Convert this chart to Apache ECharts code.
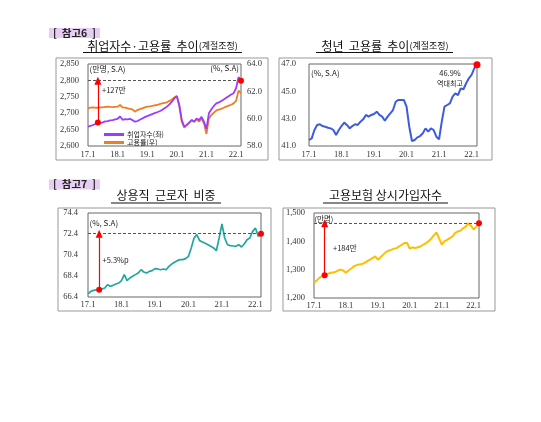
<!DOCTYPE html>
<html><head><meta charset="utf-8">
<script src="https://cdn.jsdelivr.net/npm/echarts@6/dist/echarts.min.js"></script>
<style>html,body{margin:0;padding:0;background:#fff}#c{width:541px;height:422px}</style>
</head><body><div id="c"></div>
<script>
// month categories 17.1 ... 22.3
const months = [];
for (let y = 17; y <= 22; y++) for (let m = 1; m <= 12; m++) { if (y === 22 && m > 3) break; months.push(y + '.' + m); }
const xTicks = ['17.1','18.1','19.1','20.1','21.1','22.1'];

// 취업자수 (만명, S.A)
const employment = [2659,2661,2664,2667,2672,2670,2672,2675,2676,2678,2679,2681,2683,2690,2680,2682,2681,2683,2679,2674,2676,2680,2684,2688,2691,2694,2697,2700,2703,2706,2710,2715,2720,2727,2735,2745,2752,2725,2679,2659,2664,2671,2679,2674,2684,2679,2689,2674,2652,2700,2712,2722,2730,2733,2737,2742,2747,2752,2757,2761,2776,2810,2799];
// 고용률 (%, S.A)
const empRate = [60.76,60.8,60.83,60.8,60.8,60.82,60.83,60.86,60.88,60.86,60.85,60.87,60.88,61.0,60.83,60.8,60.76,60.72,60.68,60.51,60.63,60.7,60.76,60.82,60.88,60.9,60.93,60.97,61.0,61.06,61.12,61.16,61.2,61.3,61.41,61.56,61.66,60.88,59.78,59.34,59.54,59.71,59.9,59.78,59.95,59.78,60.02,59.66,58.88,60.02,60.27,60.44,60.6,60.66,60.72,60.8,60.88,60.95,61.02,61.12,61.3,62.05,61.85];
// 청년 고용률 (%, S.A)
const youthRate = [41.44,41.56,42.17,42.54,42.59,42.46,42.41,42.34,42.29,42.17,41.8,42.17,42.46,42.71,42.54,42.29,42.46,42.59,42.54,42.78,42.95,43.27,43.15,43.27,43.34,43.51,43.27,43.15,42.85,43.15,43.39,43.63,44.24,44.37,44.37,44.37,43.88,42.41,41.37,41.44,41.63,41.73,41.93,42.29,42.05,42.29,42.17,41.68,41.49,42.78,43.88,44.0,44.12,44.61,44.85,44.73,45.22,45.15,45.59,45.95,46.2,46.68,46.95];
// 상용직 근로자 비중 (%, S.A)
const regularShare = [66.69,66.94,67.03,67.07,67.1,67.16,67.26,67.57,67.42,67.51,67.64,67.73,67.96,68.53,67.96,68.21,68.37,68.53,68.69,69.0,68.78,68.69,68.84,68.91,69.1,69.07,69.0,69.07,69.0,69.32,69.54,69.7,69.86,69.96,69.96,70.05,70.27,71.07,72.02,72.34,71.77,71.64,71.51,71.38,71.23,71.07,70.81,72.02,73.35,72.02,71.38,71.29,71.26,71.23,71.38,71.16,71.45,71.86,72.02,72.65,72.97,72.18,72.43];
// 고용보험 상시가입자수 (만명)
const insured = [1254,1262,1271,1277,1280,1285,1288,1290,1292,1297,1300,1297,1289,1297,1304,1312,1316,1318,1320,1324,1330,1335,1341,1347,1335,1344,1353,1362,1367,1370,1374,1376,1382,1388,1394,1394,1374,1379,1376,1379,1382,1388,1393,1400,1409,1421,1431,1411,1388,1400,1405,1411,1417,1429,1435,1437,1446,1452,1464,1455,1441,1452,1464];

const baseIdx = 4; // 17.5
const lastIdx = months.length - 1;

const KR = '"Noto Sans CJK KR", "Noto Sans", sans-serif';
const NUM = '"Liberation Serif", serif';

function xAxisFor(g) {
  return {
    type: 'category', gridIndex: g, data: months, boundaryGap: false,
    axisLine: { show: false }, axisTick: { show: false }, splitLine: { show: false },
    axisLabel: { interval: (i, v) => xTicks.includes(v), fontSize: 8.5, fontFamily: NUM, color: '#333', margin: g < 2 ? 4 : 3 }
  };
}
function yAxisFor(g, min, max, step, pos, margin, fmt) {
  return {
    type: 'value', gridIndex: g, min: min, max: max, interval: step, position: pos,
    axisLine: { show: false }, axisTick: { show: false }, splitLine: { show: false },
    axisLabel: { fontSize: 8.5, fontFamily: NUM, color: '#333', margin: margin, formatter: fmt, showMinLabel: true, showMaxLabel: true }
  };
}
const comma = v => v.toLocaleString('en-US');
const fix1 = v => v.toFixed(1);

function marks(arr, withArrow) {
  const start = arr[baseIdx], end = arr[lastIdx];
  const ml = [{ yAxis: end, lineStyle: { type: [3, 2], color: '#555', width: 1 }, symbol: 'none' }];
  if (withArrow) ml.push([
    { coord: [months[baseIdx], start], symbol: 'none', lineStyle: { color: '#ff0000', width: 1.2, type: 'solid' } },
    { coord: [months[baseIdx], end], symbol: 'triangle', symbolSize: [7, 8], symbolRotate: 0 }
  ]);
  return {
    markLine: { silent: true, symbol: 'none', label: { show: false }, data: ml, animation: false },
    markPoint: { silent: true, symbol: 'circle', symbolSize: 6, itemStyle: { color: '#ff0000' }, label: { show: false },
      data: [{ coord: [months[baseIdx], start] }, { coord: [months[lastIdx], end] }] }
  };
}

function txt(x, y, text, size, opts) {
  return Object.assign({ type: 'text', x: x, y: y, silent: true, style: Object.assign({ text: text, fontSize: size, fontFamily: KR, fill: '#222', textAlign: 'left', textVerticalAlign: 'middle' }, opts || {}) });
}
function rect(x, y, w, h, stroke, fill) {
  return { type: 'rect', silent: true, shape: { x: x, y: y, width: w, height: h }, style: { stroke: stroke || 'none', fill: fill || 'none', lineWidth: 1 } };
}
function line(x1, y1, x2, y2, c, w) {
  return { type: 'line', silent: true, shape: { x1: x1, y1: y1, x2: x2, y2: y2 }, style: { stroke: c, lineWidth: w } };
}
function title(cx, y, main, sub) {
  const rich = { a: { fontSize: 12, fontFamily: KR, fill: '#111' }, b: { fontSize: 9, fontFamily: KR, fill: '#111' } };
  return { type: 'text', x: cx, y: y, silent: true, style: { text: '{a|' + main + '}' + (sub ? '{b|' + sub + '}' : ''), rich: rich, textAlign: 'center', textVerticalAlign: 'middle' } };
}

const m1 = marks(employment, true);
const m3 = marks(regularShare, true);
const m4 = marks(insured, true);
const m2 = { markPoint: { silent: true, symbol: 'circle', symbolSize: 7, itemStyle: { color: '#ff0000' }, label: { show: false }, data: [{ coord: [months[lastIdx], youthRate[lastIdx]] }] } };

const option = {
  backgroundColor: '#ffffff',
  animation: false,
  grid: [
    { left: 88, top: 64, width: 153, height: 82, show: true, borderColor: '#666', borderWidth: 1, backgroundColor: 'transparent' },
    { left: 309, top: 64, width: 168, height: 82, show: true, borderColor: '#666', borderWidth: 1, backgroundColor: 'transparent' },
    { left: 88, top: 213, width: 173, height: 84, show: true, borderColor: '#666', borderWidth: 1, backgroundColor: 'transparent' },
    { left: 314, top: 213, width: 165, height: 85, show: true, borderColor: '#666', borderWidth: 1, backgroundColor: 'transparent' }
  ],
  xAxis: [xAxisFor(0), xAxisFor(1), xAxisFor(2), xAxisFor(3)],
  yAxis: [
    yAxisFor(0, 2600, 2850, 50, 'left', 9, comma),
    yAxisFor(0, 58, 64, 2, 'right', 6, fix1),
    yAxisFor(1, 41, 47, 2, 'left', 13, fix1),
    yAxisFor(2, 66.4, 74.4, 2, 'left', 10, fix1),
    yAxisFor(3, 1200, 1500, 100, 'left', 9, comma)
  ],
  legend: {
    left: 99, top: 126, orient: 'vertical', itemWidth: 20, itemHeight: 3, itemGap: 1,
    textStyle: { fontSize: 7, fontFamily: KR, color: '#222', padding: [0, 0, 0, -2] },
    data: [{ name: '취업자수(좌)', icon: 'rect' }, { name: '고용률(우)', icon: 'rect' }],
    selectedMode: false
  },
  series: [
    Object.assign({ name: '고용률(우)', type: 'line', xAxisIndex: 0, yAxisIndex: 1, data: empRate, showSymbol: false, symbol: 'none',
      lineStyle: { color: '#f07d24', width: 1.8 }, itemStyle: { color: '#f07d24' } }),
    Object.assign({ name: '취업자수(좌)', type: 'line', xAxisIndex: 0, yAxisIndex: 0, data: employment, showSymbol: false, symbol: 'none',
      lineStyle: { color: '#9b3dff', width: 1.8 }, itemStyle: { color: '#9b3dff' }, z: 3 }, m1),
    Object.assign({ name: '청년 고용률', type: 'line', xAxisIndex: 1, yAxisIndex: 2, data: youthRate, showSymbol: false, symbol: 'none',
      lineStyle: { color: '#3d5be0', width: 2 }, itemStyle: { color: '#3d5be0' } }, m2),
    Object.assign({ name: '상용직 비중', type: 'line', xAxisIndex: 2, yAxisIndex: 3, data: regularShare, showSymbol: false, symbol: 'none',
      lineStyle: { color: '#22a79e', width: 1.7 }, itemStyle: { color: '#22a79e' } }, m3),
    Object.assign({ name: '고용보험', type: 'line', xAxisIndex: 3, yAxisIndex: 4, data: insured, showSymbol: false, symbol: 'none',
      lineStyle: { color: '#ffbf00', width: 2 }, itemStyle: { color: '#ffbf00' } }, m4)
  ],
  graphic: [
    // outer panel frames
    rect(56, 58, 212, 102, '#999'),
    rect(279, 58, 213, 102, '#999'),
    rect(58, 208, 213, 103, '#999'),
    rect(283, 208, 212, 103, '#999'),
    // section labels
    rect(49, 28, 51, 10, 'none', '#e6cdf2'),
    txt(74.5, 33.5, '[  참고6  ]', 10.5, { textAlign: 'center', fontWeight: 'bold', fill: '#222' }),
    rect(49, 179.5, 51, 10, 'none', '#e6cdf2'),
    txt(74.5, 184.5, '[  참고7  ]', 10.5, { textAlign: 'center', fontWeight: 'bold', fill: '#222' }),
    // titles
    title(162.5, 46, '취업자수·고용률  추이', '(계절조정)'),
    line(83, 52.5, 242, 52.5, '#111', 1),
    title(385, 46, '청년  고용률  추이', '(계절조정)'),
    line(316, 52.5, 453, 52.5, '#111', 1),
    title(166, 195, '상용직  근로자  비중'),
    line(111, 203, 221, 203, '#111', 1),
    title(385.5, 195, '고용보험 상시가입자수'),
    line(323, 203, 448, 203, '#111', 1),
    // in-plot notes
    txt(89.5, 68.5, '(만명, S.A)', 8),
    txt(239, 68, '(%, S.A)', 8, { textAlign: 'right' }),
    txt(102, 90.5, '+127만', 7.5),
    txt(311, 73, '(%, S.A)', 8),
    txt(450, 73, '46.9%', 7.5, { textAlign: 'center' }),
    txt(450, 83.5, '역대최고', 7, { textAlign: 'center' }),
    txt(89.5, 223, '(%, S.A)', 8),
    txt(102.5, 260.5, '+5.3%p', 7.5),
    txt(314.5, 219.5, '(만명)', 7.5),
    txt(333, 248.5, '+184만', 7.5)
  ]
};
const chart = echarts.init(document.getElementById('c'), null, { renderer: 'canvas' });
chart.setOption(option);
</script>
</body></html>
